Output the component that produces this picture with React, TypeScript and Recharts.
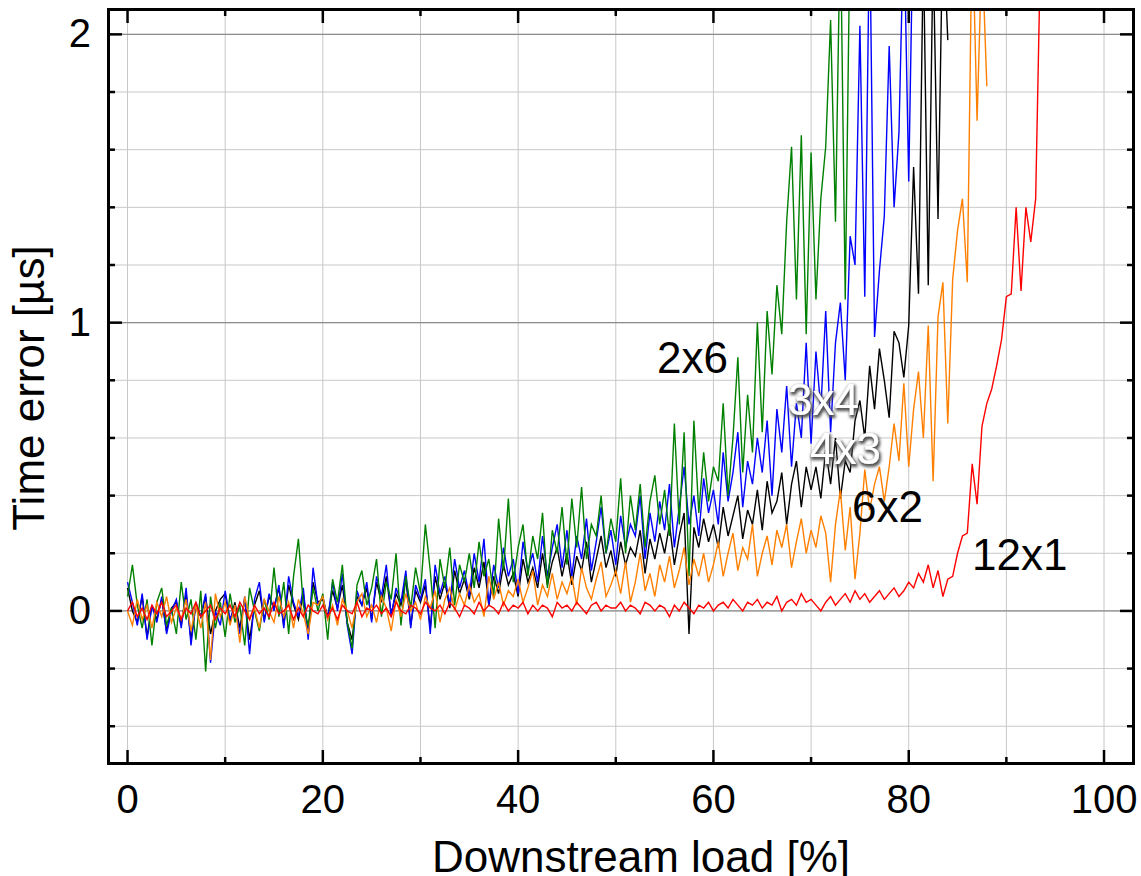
import React from 'react';
import { LineChart, Line, XAxis, YAxis, CartesianGrid } from 'recharts';

// load axis is sampled every 0.5 %
const LOAD_STEP = 0.5;

// time error [µs] per load sample, one array per configuration
const err2x6 = [
  0.05, 0.16, 0.02, -0.06, 0.04, -0.12, 0.03, 0.08, -0.05, 0.01,
  -0.08, 0.1, -0.03, 0.04, -0.1, 0.07, -0.21, 0.05, -0.06, 0.03,
  -0.09, 0.06, -0.04, 0.02, -0.12, 0.08, 0.0, -0.07, 0.04, -0.03,
  0.15, -0.02, 0.1, -0.08, 0.12, 0.25, 0.02, -0.05, 0.08, 0.0,
  0.06, -0.1, 0.11, 0.03, 0.16, -0.04, -0.13, 0.09, 0.14, 0.02,
  0.08, 0.18, -0.02, 0.1, 0.04, 0.2, -0.05, 0.12, 0.01, 0.15,
  0.06, 0.3, 0.14, -0.06, 0.18, 0.08, 0.22, 0.02, 0.16, 0.1,
  0.2, 0.08, 0.24, 0.12, 0.18, 0.05, 0.32, 0.14, 0.39, 0.1,
  0.22, 0.3, 0.12, 0.26, 0.18, 0.34, 0.08, 0.28, 0.2, 0.36,
  0.16, 0.39, 0.22, 0.43, 0.18, 0.3, 0.26, 0.4, 0.2, 0.32,
  0.24, 0.46, 0.2, 0.4, 0.28, 0.44, 0.22, 0.38, 0.47, 0.3,
  0.42, 0.26, 0.65, 0.3, 0.62, 0.12, 0.66, 0.34, 0.55, 0.38,
  0.5, 0.45, 0.72, 0.4, 0.6, 0.88, 0.48, 0.75, 0.55, 1.0,
  0.62, 1.04, 0.82, 1.13, 0.96, 1.35, 1.61, 1.08, 1.65, 0.96,
  1.59, 1.08, 1.43, 1.61, 2.05, 1.35, 2.4, 1.08, 2.4, 2.5,
];

const err3x4 = [
  0.1, 0.03, -0.05, 0.06, -0.1, 0.02, -0.04, 0.05, -0.08, 0.0,
  0.04, -0.06, 0.08, -0.12, 0.03, -0.02, 0.06, -0.18, 0.0, -0.05,
  0.07, -0.03, 0.02, -0.08, 0.05, -0.15, 0.04, 0.1, -0.04, 0.06,
  0.0, 0.09, -0.06, 0.12, 0.03, -0.02, 0.08, -0.1, 0.15, 0.02,
  0.05, -0.03, 0.1, 0.0, 0.13, -0.05, -0.15, 0.07, 0.02, 0.1,
  -0.04, 0.12, 0.05, 0.16, -0.02, 0.08, 0.03, 0.14, -0.06, 0.09,
  0.04, 0.11, -0.08, 0.16, 0.06, 0.12, 0.02, 0.18, 0.08, 0.14,
  0.05, 0.2, 0.1, 0.25, 0.02, 0.16, 0.08, 0.22, 0.12, 0.18,
  0.06, 0.24, 0.14, 0.2, 0.1, 0.26, 0.12, 0.22, 0.3, 0.15,
  0.28, 0.12, 0.26, 0.18, 0.32, 0.14, 0.24, 0.36, 0.2, 0.28,
  0.16, 0.33, 0.22, 0.3, 0.26, 0.4, 0.18, 0.34, 0.24, 0.38,
  0.28, 0.44, 0.22, 0.36, 0.5, 0.3, 0.4, 0.26, 0.46, 0.34,
  0.42, 0.3, 0.55, 0.38, 0.48, 0.62, 0.36, 0.52, 0.44, 0.6,
  0.48, 0.66, 0.4, 0.7, 0.55, 0.78, 0.5, 0.72, 0.6, 0.93,
  0.58, 0.9, 0.7, 1.04, 0.62, 0.93, 1.07, 0.8, 1.3, 1.2,
  2.03, 1.09, 2.4, 0.95, 1.18, 1.37, 1.96, 1.4, 1.66, 2.4,
  1.49, 2.5,
];

const err4x3 = [
  0.08, 0.0, -0.04, 0.05, -0.09, 0.02, -0.03, 0.04, -0.07, 0.01,
  0.03, -0.05, 0.06, -0.1, 0.02, -0.02, 0.05, -0.08, 0.0, 0.04,
  0.06, -0.04, 0.03, -0.06, 0.04, -0.1, 0.02, 0.07, -0.03, 0.05,
  0.01, 0.08, -0.05, 0.09, 0.02, -0.03, 0.06, -0.08, 0.1, 0.03,
  0.04, -0.02, 0.07, 0.01, 0.09, -0.04, -0.1, 0.05, 0.02, 0.08,
  -0.03, 0.1, 0.03, 0.12, -0.01, 0.06, 0.02, 0.11, -0.05, 0.07,
  0.03, 0.09, -0.06, 0.12, 0.04, 0.1, 0.01, 0.14, 0.06, 0.11,
  0.04, 0.15, 0.08, 0.17, 0.02, 0.12, 0.06, 0.16, 0.09, 0.13,
  0.05, 0.18, 0.1, 0.15, 0.08, 0.2, 0.09, 0.17, 0.22, 0.12,
  0.2, 0.09, 0.19, 0.14, 0.24, 0.1, 0.18, 0.26, 0.15, 0.21,
  0.12, 0.24, 0.16, 0.22, 0.19, 0.28, 0.13, 0.25, 0.18, 0.27,
  0.2, 0.3, 0.16, 0.26, 0.34, -0.08, 0.29, 0.22, 0.32, 0.24,
  0.3, 0.22, 0.36, 0.26, 0.33, 0.4, 0.25, 0.35, 0.3, 0.42,
  0.28, 0.45, 0.34, 0.38, 0.48, 0.3, 0.44, 0.52, 0.36, 0.5,
  0.42, 0.5, 0.39, 0.56, 0.44, 0.6, 0.39, 0.52, 0.48, 0.66,
  0.73, 0.6, 0.85, 0.7, 0.91, 0.8, 0.67, 0.97, 0.93, 0.81,
  0.99, 1.54, 1.1, 2.3, 1.13, 2.3, 1.36, 2.4, 1.98,
];

const err6x2 = [
  0.0, -0.05, 0.04, -0.03, 0.02, -0.06, 0.03, -0.02, 0.05, -0.04,
  0.01, -0.03, 0.04, -0.07, 0.02, -0.06, 0.03, -0.17, 0.06, -0.02,
  0.03, -0.05, 0.02, -0.11, 0.05, -0.03, 0.01, -0.06, 0.04, 0.0,
  -0.04, 0.05, -0.02, 0.03, -0.06, 0.04, -0.01, -0.08, 0.03, 0.02,
  0.05, -0.03, 0.02, -0.05, 0.04, 0.0, -0.06, 0.03, 0.06, -0.02,
  0.02, -0.04, 0.05, 0.01, -0.07, 0.04, -0.02, 0.06, 0.0, 0.03,
  -0.03, 0.05, 0.01, 0.07, -0.04, 0.04, 0.08, 0.0, 0.06, 0.02,
  0.09, 0.03, 0.06, -0.02, 0.12, 0.04, 0.1, 0.02, 0.07, 0.05,
  0.11, 0.03, 0.08, 0.14, 0.02, 0.09, 0.05, 0.13, 0.04, 0.1,
  0.06, 0.12, 0.02, 0.15, 0.08, 0.04, 0.11, 0.17, 0.05, 0.09,
  0.14, 0.06, 0.17, 0.03, 0.1, 0.2, 0.07, 0.13, 0.05, 0.16,
  0.1, 0.19, 0.08, 0.14, 0.22, 0.09, 0.18, 0.12, 0.2, 0.1,
  0.16, 0.24, 0.12, 0.2, 0.27, 0.14, 0.22, 0.18, 0.3, 0.12,
  0.2, 0.26, 0.16, 0.28, 0.22, 0.3, 0.15, 0.24, 0.32, 0.2,
  0.28, 0.22, 0.33, 0.27, 0.1, 0.3, 0.42, 0.21, 0.36, 0.11,
  0.27, 0.49, 0.35, 0.44, 0.5, 0.38, 0.5, 0.65, 0.52, 0.79,
  0.5, 0.7, 0.83, 0.6, 0.99, 0.45, 1.02, 1.14, 0.65, 1.15,
  1.32, 1.43, 1.14, 2.4, 1.7, 2.3, 1.82,
];

const err12x1 = [
  0.0, 0.03, -0.02, 0.01, -0.03, 0.02, -0.01, 0.03, -0.02, 0.0,
  0.02, -0.03, 0.01, -0.01, 0.03, -0.02, 0.0, 0.02, -0.03, 0.01,
  -0.01, 0.02, -0.02, 0.03, 0.0, -0.03, 0.02, -0.01, 0.01, -0.02,
  0.03, -0.01, 0.0, 0.02, -0.03, 0.01, -0.02, 0.02, 0.0, -0.01,
  0.02, -0.02, 0.01, -0.03, 0.02, 0.0, -0.01, 0.03, -0.02, 0.01,
  0.0, 0.02, -0.01, 0.01, -0.02, 0.03, 0.0, -0.01, 0.02, 0.01,
  -0.01, 0.03, 0.01, 0.0, 0.02, -0.01, 0.03, 0.01, -0.02, 0.02,
  0.01, -0.01, 0.03, 0.0, 0.02, 0.01, -0.01, 0.03, 0.0, 0.02,
  0.01, 0.03, -0.01, 0.02, 0.0, 0.02, 0.01, -0.02, 0.03, 0.01,
  0.02, 0.0, 0.03, 0.01, -0.01, 0.02, 0.03, 0.0, 0.02, 0.01,
  0.01, 0.03, 0.0, 0.02, 0.01, -0.01, 0.03, 0.02, 0.0, 0.02,
  0.01, -0.02, 0.02, 0.0, 0.03, 0.01, -0.01, 0.02, 0.01, 0.03,
  0.0, 0.02, 0.03, 0.01, 0.04, 0.02, 0.0, 0.03, 0.02, 0.04,
  0.01, 0.03, 0.02, 0.05, 0.0, 0.03, 0.04, 0.02, 0.06, 0.03,
  0.04, 0.02, 0.0, 0.03, 0.05, 0.02, 0.04, 0.06, 0.03, 0.07,
  0.04, 0.06, 0.03, 0.05, 0.07, 0.04, 0.06, 0.08, 0.05, 0.07,
  0.1, 0.08, 0.13, 0.1, 0.16, 0.08, 0.14, 0.05, 0.11, 0.12,
  0.2, 0.26, 0.27, 0.51, 0.37, 0.64, 0.72, 0.77, 0.85, 0.94,
  1.09, 1.1, 1.4, 1.11, 1.4, 1.28, 1.43, 2.3,
];

const xTicks = [0, 10, 20, 30, 40, 50, 60, 70, 80, 90, 100];
const yTicks = [-0.4, -0.2, 0, 0.2, 0.4, 0.6, 0.8, 1, 1.2, 1.4, 1.6, 1.8, 2];
const yMajor = [0, 1, 2];

const W = 1141;
const H = 876;
const LEFT = 108;
const RIGHT = 1134;
const TOP = 9;
const BOTTOM = 764;
const FONT = '"Liberation Sans", Arial, sans-serif';

const series = [
  { key: 'k', data: err4x3, color: '#000000' },
  { key: 'b', data: err3x4, color: '#0000ff' },
  { key: 'g', data: err2x6, color: '#008000' },
  { key: 'o', data: err6x2, color: '#ff8000' },
  { key: 'r', data: err12x1, color: '#ff0000' },
];

const nRows = Math.max(...series.map((s) => s.data.length));
const rows = Array.from({ length: nRows }, (_, i) => {
  const row: any = { x: i * LOAD_STEP };
  series.forEach((s) => {
    if (i < s.data.length) row[s.key] = s.data[i];
  });
  return row;
});

const isWhole = (v: number) => Math.abs(v - Math.round(v)) < 1e-6;

const XTick = ({ x, payload }: any) => {
  const major = payload.value % 20 === 0;
  const len = major ? 14 : 7;
  return (
    <g>
      <line x1={x} x2={x} y1={BOTTOM} y2={BOTTOM - len} stroke="#000" strokeWidth={2.5} />
      <line x1={x} x2={x} y1={TOP} y2={TOP + len} stroke="#000" strokeWidth={2.5} />
      {major && (
        <text x={x} y={813} textAnchor="middle" fontSize={40} fontFamily={FONT} fill="#000">
          {payload.value}
        </text>
      )}
    </g>
  );
};

const YTick = ({ y, payload }: any) => {
  const major = isWhole(payload.value);
  const len = major ? 14 : 7;
  return (
    <g>
      <line x1={LEFT} x2={LEFT + len} y1={y} y2={y} stroke="#000" strokeWidth={2.5} />
      <line x1={RIGHT - len} x2={RIGHT} y1={y} y2={y} stroke="#000" strokeWidth={2.5} />
      {major && (
        <text x={91} y={y + 13} textAnchor="end" fontSize={40} fontFamily={FONT} fill="#000">
          {Math.round(payload.value)}
        </text>
      )}
    </g>
  );
};

export default function App() {
  return (
    <div style={{ position: 'absolute', left: 0, top: 0, width: W, height: H, background: '#fff' }}>
      <LineChart width={W} height={H} data={rows} margin={{ top: TOP, right: W - RIGHT, bottom: 0, left: 0 }}>
        <CartesianGrid stroke="#c8c8c8" strokeWidth={1} />
        <CartesianGrid stroke="#8c8c8c" strokeWidth={1.2} vertical={false} horizontalValues={yMajor} />
        <XAxis
          type="number"
          dataKey="x"
          domain={[-2.0, 103.07]}
          ticks={xTicks}
          allowDataOverflow
          height={H - BOTTOM}
          axisLine={false}
          tickLine={false}
          tick={<XTick />}
          interval={0}
        />
        <YAxis
          type="number"
          domain={[-0.531, 2.088]}
          ticks={yTicks}
          allowDataOverflow
          width={LEFT}
          axisLine={false}
          tickLine={false}
          tick={<YTick />}
          interval={0}
        />
        {series.map((s) => (
          <Line
            key={s.key}
            dataKey={s.key}
            stroke={s.color}
            strokeWidth={1.4}
            dot={false}
            activeDot={false}
            isAnimationActive={false}
            type="linear"
          />
        ))}
      </LineChart>

      {/* plot frame */}
      <div
        style={{
          position: 'absolute',
          left: LEFT - 1,
          top: TOP - 1,
          width: RIGHT - LEFT + 2,
          height: BOTTOM - TOP + 2,
          border: '3px solid #000',
          boxSizing: 'border-box',
          pointerEvents: 'none',
        }}
      />

      {/* titles and curve labels */}
      <svg width={W} height={H} style={{ position: 'absolute', left: 0, top: 0, pointerEvents: 'none' }}>
        <defs>
          <filter id="glow" x="-20%" y="-30%" width="140%" height="160%">
            <feMorphology in="SourceAlpha" operator="dilate" radius="1" result="wide" />
            <feGaussianBlur in="wide" stdDeviation="1.8" result="soft" />
            <feOffset in="soft" dx="1" dy="1.5" result="moved" />
            <feFlood floodColor="#4a4a4a" floodOpacity="0.95" />
            <feComposite in2="moved" operator="in" result="shade" />
            <feMerge>
              <feMergeNode in="shade" />
              <feMergeNode in="SourceGraphic" />
            </feMerge>
          </filter>
        </defs>
        <text x={641} y={872} textAnchor="middle" fontSize={44} fontFamily={FONT} fill="#000">
          Downstream load [%]
        </text>
        <text
          x={0}
          y={0}
          transform="translate(44 388) rotate(-90)"
          textAnchor="middle"
          fontSize={44}
          fontFamily={FONT}
          fill="#000"
        >
          Time error [µs]
        </text>
        <text x={657} y={373} fontSize={44} fontFamily={FONT} fill="#000">2x6</text>
        <text x={788} y={415} fontSize={44} fontFamily={FONT} fill="#fff" filter="url(#glow)">3x4</text>
        <text x={810} y={464} fontSize={44} fontFamily={FONT} fill="#fff" filter="url(#glow)">4x3</text>
        <text x={852} y={522} fontSize={44} fontFamily={FONT} fill="#000">6x2</text>
        <text x={972} y={570} fontSize={44} fontFamily={FONT} fill="#000">12x1</text>
      </svg>
    </div>
  );
}
